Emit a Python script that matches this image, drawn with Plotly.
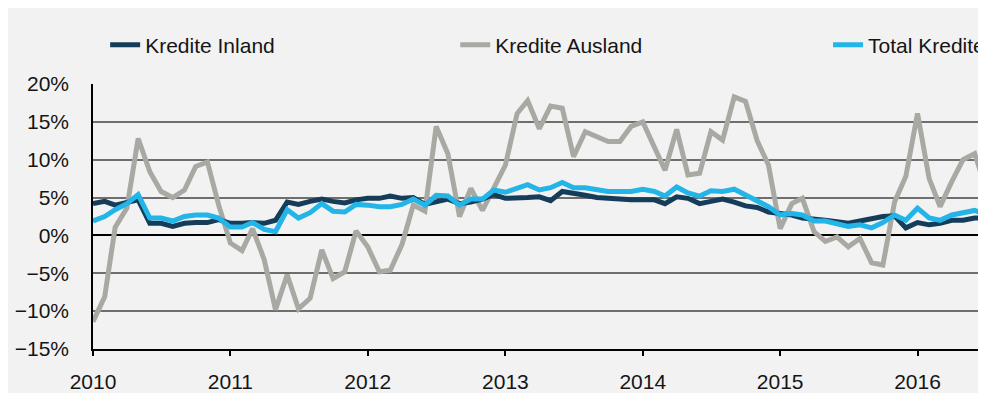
import pandas as pd
import plotly.graph_objects as go

# monthly growth rates, Jan 2010 .. Jul 2016
months = pd.date_range("2010-01-01", periods=79, freq="MS")

kredite_inland = [
    4.2, 4.5, 4.0, 4.3, 4.7, 1.6, 1.6, 1.2, 1.6, 1.7, 1.7, 2.1,
    1.6, 1.6, 1.7, 1.6, 2.0, 4.4, 4.1, 4.5, 4.8, 4.5, 4.3, 4.7,
    4.9, 4.9, 5.2, 4.9, 5.0, 4.1, 4.5, 4.8, 4.2, 4.4, 4.8, 5.4,
    4.9, 4.9, 5.0, 5.1, 4.6, 5.8, 5.6, 5.3, 5.0, 4.9, 4.7, 4.7,
    4.7, 4.7, 4.2, 5.1, 4.9, 4.2, 4.5, 4.8, 4.4, 3.9, 3.7, 3.1,
    2.9, 2.7, 2.3, 2.2, 2.0, 1.8, 1.6, 1.9, 2.2, 2.5, 2.6, 1.0,
    1.7, 1.4, 1.6, 2.0, 2.0, 2.3, 2.3,
]
kredite_ausland = [
    -11.4, -8.1, 1.1, 3.6, 12.8, 8.4, 5.8, 5.0, 6.0, 9.1, 9.7, 4.0,
    -1.0, -2.0, 0.9, -3.2, -9.8, -5.2, -9.7, -8.3, -1.9, -5.7, -4.8, 0.6,
    -1.5, -4.8, -4.6, -1.2, 4.0, 3.2, 14.4, 10.8, 2.5, 6.2, 3.3, 6.4,
    9.3, 16.1, 17.8, 14.1, 17.1, 16.8, 10.4, 13.7, 13.0, 12.4, 12.4, 14.4,
    15.0, 11.7, 8.6, 14.0, 8.0, 8.2, 13.7, 12.6, 18.3, 17.7, 12.5, 9.3,
    0.9, 4.2, 4.9, 0.5, -0.8, -0.2, -1.5, -0.4, -3.6, -3.9, 4.4, 7.8,
    16.1, 7.5, 3.8, 7.1, 10.0, 10.8, 6.2,
]
total_kredite = [
    1.9, 2.5, 3.4, 4.2, 5.4, 2.3, 2.3, 1.9, 2.5, 2.7, 2.7, 2.3,
    1.1, 1.1, 1.7, 0.8, 0.5, 3.4, 2.3, 3.0, 4.2, 3.2, 3.1, 4.1,
    4.0, 3.8, 3.8, 4.1, 4.8, 4.0, 5.3, 5.2, 4.0, 4.8, 4.8, 6.0,
    5.7, 6.2, 6.7, 6.0, 6.3, 7.0, 6.3, 6.3, 6.0, 5.8, 5.8, 5.8,
    6.1, 5.8, 5.2, 6.4, 5.6, 5.2, 5.9, 5.8, 6.1, 5.4, 4.6, 3.8,
    2.7, 2.9, 2.7, 1.9, 1.9, 1.6, 1.2, 1.4, 1.0, 1.7, 2.7, 2.0,
    3.6, 2.3, 2.0, 2.7, 3.0, 3.3, 2.8,
]

DARK = "#153d5a"
GREY = "#a9a9a4"
BLUE = "#23b4e8"
TXT = "#151515"
FONT = "Liberation Sans, Arial, sans-serif"

fig = go.Figure()
fig.add_trace(go.Scatter(x=months, y=kredite_ausland, name="Kredite Ausland", mode="lines",
                         line=dict(color=GREY, width=5), legend="legend2"))
fig.add_trace(go.Scatter(x=months, y=kredite_inland, name="Kredite Inland", mode="lines",
                         line=dict(color=DARK, width=5), legend="legend"))
fig.add_trace(go.Scatter(x=months, y=total_kredite, name="Total Kredite", mode="lines",
                         line=dict(color=BLUE, width=5), legend="legend3"))

leg = dict(orientation="h", yanchor="middle", y=1.147, xanchor="left",
           bgcolor="rgba(0,0,0,0)", font=dict(size=21, color=TXT, family=FONT))

# page body keeps its 8px margin, so the figure is laid out 8px up/left of the reference
fig.update_layout(
    width=978, height=385,
    margin=dict(l=85, r=0, t=76, b=44, autoexpand=False),
    paper_bgcolor="#f2f2f2",
    plot_bgcolor="#f2f2f2",
    font=dict(family=FONT, size=21, color=TXT),
    showlegend=True,
    legend=dict(leg, x=0.0136),
    legend2=dict(leg, x=0.4056),
    legend3=dict(leg, x=0.8231),
    xaxis=dict(type="date", range=["2010-01-01", "2016-07-01"], dtick="M12",
               tick0="2010-01-01", tickformat="%Y", showgrid=False,
               showline=True, linecolor="black", linewidth=1.5,
               ticks="outside", ticklen=5, tickcolor="black", tickwidth=1.5,
               ticklabelstandoff=8, automargin=False),
    xaxis2=dict(type="date", overlaying="x", matches="x", anchor="free",
                position=15 / 35, range=["2010-01-01", "2016-07-01"],
                dtick="M12", tick0="2010-01-01", showgrid=False,
                showline=True, linecolor="black", linewidth=1.5,
                ticks="outside", ticklen=5, tickcolor="black", tickwidth=1.5,
                showticklabels=False, automargin=False),
    yaxis=dict(range=[-15, 20], dtick=5, ticksuffix="%",
               showgrid=True, gridcolor="#6e6e6e", gridwidth=1.5,
               zeroline=True, zerolinecolor="black", zerolinewidth=1.5,
               showline=True, linecolor="black", linewidth=1.5,
               ticks="outside", ticklen=18, tickcolor="rgba(0,0,0,0)",
               automargin=False),
)

fig.write_html("out.html")
